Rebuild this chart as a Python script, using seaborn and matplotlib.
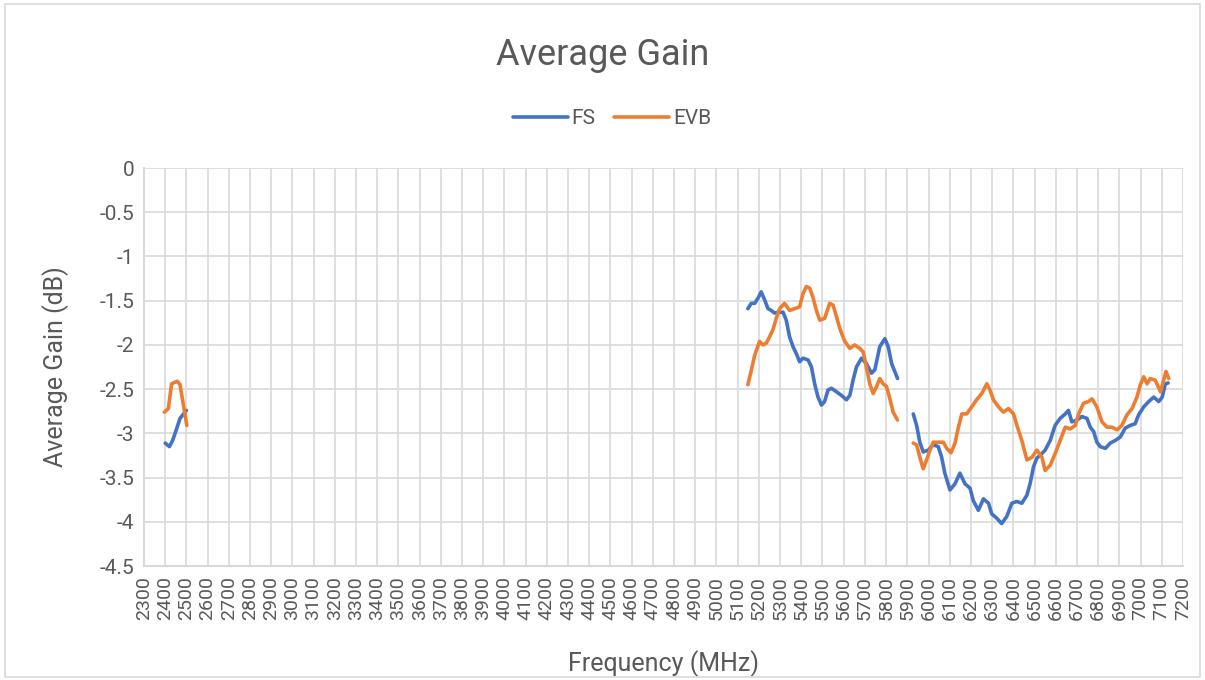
import pandas as pd
import seaborn as sns
import matplotlib.pyplot as plt
from matplotlib.patches import Rectangle

# --- data (MHz, dB) ---
fs_24_freq = [2400, 2420, 2435, 2455, 2470, 2500]
fs_24_gain = [-3.11, -3.15, -3.08, -2.94, -2.83, -2.74]
evb_24_freq = [2396, 2415, 2430, 2457, 2470, 2502]
evb_24_gain = [-2.76, -2.72, -2.44, -2.41, -2.45, -2.91]

fs_5g_freq = [5148, 5164, 5180, 5196, 5211, 5227, 5243, 5258, 5274, 5290, 5314, 5329,
              5345, 5361, 5377, 5392, 5408, 5432, 5448, 5463, 5479, 5495, 5510, 5526,
              5542, 5566, 5589, 5613, 5629, 5644, 5660, 5684, 5707, 5731, 5747, 5770,
              5794, 5810, 5826, 5854]
fs_5g_gain = [-1.59, -1.53, -1.53, -1.47, -1.40, -1.49, -1.59, -1.61, -1.64, -1.63, -1.63, -1.72,
              -1.91, -2.02, -2.10, -2.19, -2.15, -2.17, -2.25, -2.44, -2.59, -2.68, -2.64, -2.51,
              -2.49, -2.53, -2.57, -2.62, -2.57, -2.40, -2.25, -2.15, -2.21, -2.32, -2.28, -2.02,
              -1.93, -2.02, -2.21, -2.38]
evb_5g_freq = [5148, 5164, 5180, 5203, 5219, 5235, 5250, 5266, 5282, 5298, 5321, 5345,
               5368, 5392, 5408, 5424, 5440, 5455, 5471, 5487, 5510, 5534, 5550, 5566,
               5581, 5605, 5629, 5652, 5676, 5692, 5707, 5723, 5739, 5755, 5770, 5786,
               5802, 5818, 5833, 5854]
evb_5g_gain = [-2.45, -2.29, -2.12, -1.96, -2.00, -1.98, -1.91, -1.83, -1.70, -1.59, -1.53, -1.61,
               -1.59, -1.57, -1.42, -1.34, -1.36, -1.46, -1.61, -1.72, -1.70, -1.53, -1.55, -1.68,
               -1.81, -1.96, -2.04, -2.00, -2.04, -2.08, -2.25, -2.44, -2.55, -2.47, -2.38, -2.44,
               -2.47, -2.61, -2.76, -2.85]

fs_6g_freq = [5928, 5944, 5959, 5975, 5999, 6022, 6046, 6062, 6077, 6101, 6125, 6148,
              6172, 6196, 6211, 6235, 6259, 6283, 6298, 6322, 6345, 6369, 6393, 6416,
              6440, 6464, 6479, 6495, 6511, 6534, 6550, 6574, 6597, 6621, 6645, 6660,
              6676, 6700, 6723, 6747, 6763, 6779, 6794, 6810, 6834, 6857, 6881, 6905,
              6928, 6952, 6975, 6991, 7015, 7039, 7062, 7086, 7102, 7117, 7130]
fs_6g_gain = [-2.78, -2.91, -3.10, -3.21, -3.19, -3.13, -3.15, -3.27, -3.45, -3.64, -3.57, -3.45,
              -3.57, -3.62, -3.76, -3.87, -3.74, -3.79, -3.91, -3.96, -4.02, -3.94, -3.79, -3.77,
              -3.79, -3.70, -3.57, -3.38, -3.28, -3.23, -3.19, -3.08, -2.91, -2.83, -2.78, -2.74,
              -2.87, -2.85, -2.81, -2.83, -2.93, -2.98, -3.10, -3.15, -3.17, -3.11, -3.08, -3.04,
              -2.94, -2.91, -2.89, -2.79, -2.70, -2.64, -2.59, -2.64, -2.59, -2.44, -2.43]
evb_6g_freq = [5928, 5944, 5959, 5975, 5991, 6007, 6022, 6046, 6070, 6086, 6106, 6125,
               6141, 6157, 6180, 6204, 6227, 6251, 6275, 6290, 6306, 6330, 6353, 6377,
               6401, 6417, 6440, 6464, 6488, 6511, 6535, 6550, 6574, 6597, 6621, 6645,
               6668, 6692, 6708, 6731, 6755, 6771, 6794, 6818, 6842, 6865, 6889, 6912,
               6936, 6960, 6983, 6999, 7015, 7031, 7046, 7070, 7094, 7109, 7120, 7133]
evb_6g_gain = [-3.11, -3.13, -3.27, -3.40, -3.30, -3.19, -3.10, -3.10, -3.10, -3.17, -3.22, -3.11,
               -2.93, -2.78, -2.78, -2.70, -2.62, -2.55, -2.44, -2.51, -2.62, -2.70, -2.76, -2.72,
               -2.78, -2.91, -3.08, -3.30, -3.27, -3.19, -3.27, -3.42, -3.36, -3.23, -3.08, -2.93,
               -2.95, -2.91, -2.78, -2.66, -2.64, -2.61, -2.70, -2.87, -2.93, -2.93, -2.96, -2.91,
               -2.79, -2.72, -2.59, -2.45, -2.36, -2.44, -2.38, -2.40, -2.53, -2.40, -2.30, -2.38]

x_ticks = list(range(2300, 7300, 100))
y_ticks = [0, -0.5, -1, -1.5, -2, -2.5, -3, -3.5, -4, -4.5]

# long-form table, one "band" per disconnected segment
parts = []
for name, band, f, g in [("FS", "2.4G", fs_24_freq, fs_24_gain),
                         ("FS", "5G", fs_5g_freq, fs_5g_gain),
                         ("FS", "6G", fs_6g_freq, fs_6g_gain),
                         ("EVB", "2.4G", evb_24_freq, evb_24_gain),
                         ("EVB", "5G", evb_5g_freq, evb_5g_gain),
                         ("EVB", "6G", evb_6g_freq, evb_6g_gain)]:
    parts.append(pd.DataFrame({"Series": name, "Band": band, "Freq": f, "Gain": g}))
df = pd.concat(parts, ignore_index=True)

sns.set_theme(style="white")
plt.rcParams["font.family"] = ["Roboto", "DejaVu Sans"]
text_col = "#595959"
grid_col = "#d9d9d9"

fig = plt.figure(figsize=(12.05, 6.8), dpi=100)
ax = fig.add_axes([0.1195, 0.1676, 0.8622, 0.5853])

sns.lineplot(data=df, x="Freq", y="Gain", hue="Series", units="Band", estimator=None,
             palette={"FS": "#4472C4", "EVB": "#ED7D31"}, hue_order=["FS", "EVB"],
             linewidth=2.6, sort=False, ax=ax)

ax.set_xlim(2300, 7200)
ax.set_ylim(-4.5, 0)
ax.set_xticks(x_ticks)
ax.set_xticklabels([str(v) for v in x_ticks], rotation=90, fontsize=14, color=text_col)
ax.set_yticks(y_ticks)
ax.set_yticklabels([f"{v:g}" for v in y_ticks], fontsize=15, color=text_col)
ax.tick_params(axis="x", length=0, pad=7)
ax.tick_params(axis="y", length=0, pad=7)
ax.grid(True, color=grid_col, linewidth=1.2)
ax.set_axisbelow(True)
for s in ["top", "right"]:
    ax.spines[s].set_visible(False)
for s in ["left", "bottom"]:
    ax.spines[s].set_color(grid_col)
    ax.spines[s].set_linewidth(1.5)

ax.set_xlabel("Frequency (MHz)", fontsize=18, color=text_col, labelpad=22)
ax.set_ylabel("Average Gain (dB)", fontsize=18, color=text_col, labelpad=22)

handles, labels = ax.get_legend_handles_labels()
ax.legend(handles, labels, loc="center", bbox_to_anchor=(0.508, 0.826),
          bbox_transform=fig.transFigure, ncol=2, frameon=False, fontsize=15,
          labelcolor=text_col, handlelength=2.6, handletextpad=0.2, columnspacing=0.9)

fig.suptitle("Average Gain", fontsize=26, color=text_col, y=0.945)
fig.patches.append(Rectangle((0.004, 0.004), 0.992, 0.99, transform=fig.transFigure,
                             fill=False, edgecolor=grid_col, linewidth=1.2))

fig.savefig("out.png", dpi=100)
